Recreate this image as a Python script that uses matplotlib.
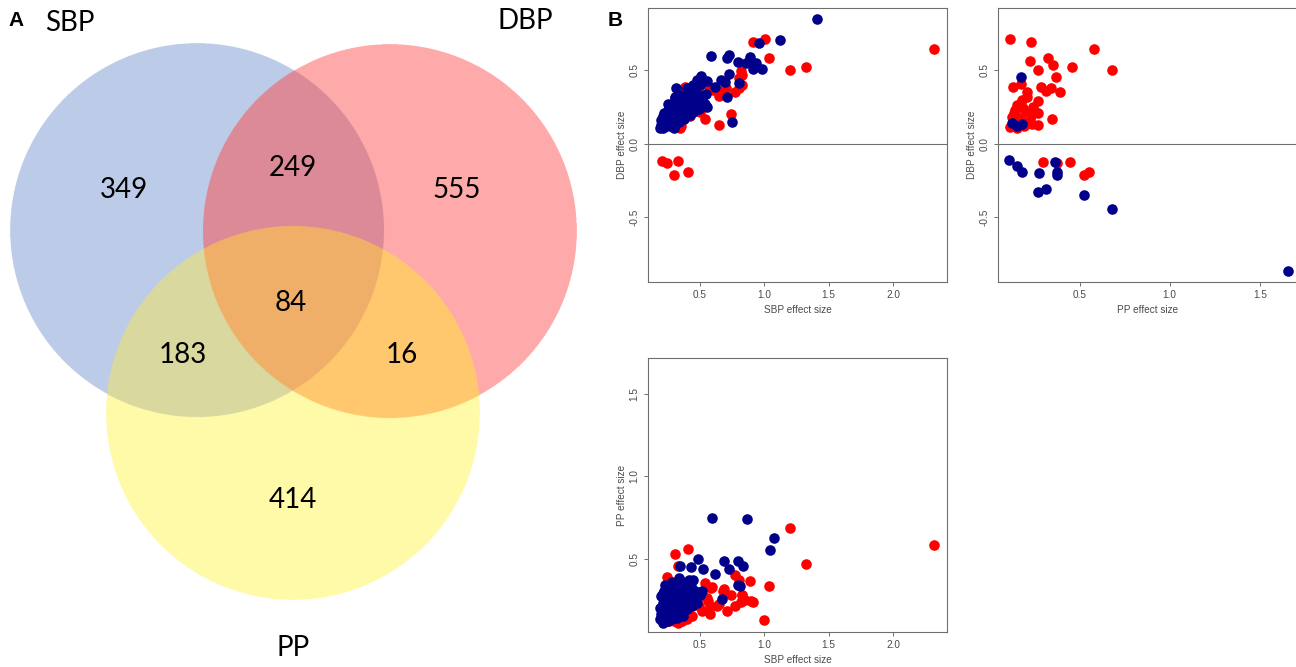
"""Venn diagram of SBP/DBP/PP loci plus pairwise effect-size scatter plots."""

import matplotlib
matplotlib.use("Agg")
import matplotlib.pyplot as plt
import numpy as np

# ---- Venn counts ----
venn_sets = ["SBP", "DBP", "PP"]
venn_counts = {"A": 349, "B": 555, "C": 414, "AB": 249, "AC": 183, "BC": 16, "ABC": 84}

# ---- panel 1: SBP (x) vs DBP (y) ----
p1_red_x = [2.322, 1.004, 0.911, 1.035, 1.200, 1.327, 0.823, 0.802, 0.805, 0.775, 0.681, 0.648,
            0.384, 0.740, 0.541, 0.652, 0.353, 0.208, 0.247, 0.329, 0.301, 0.410,
            0.825, 0.825, 0.655, 0.60, 0.52, 0.46, 0.42, 0.50, 0.28, 0.345, 0.44, 0.32, 0.57, 0.70, 0.90]
p1_red_y = [0.646, 0.712, 0.694, 0.583, 0.501, 0.524, 0.499, 0.447, 0.379, 0.356, 0.367, 0.324,
            0.385, 0.204, 0.170, 0.132, 0.125, -0.118, -0.132, -0.118, -0.211, -0.188,
            0.47, 0.40, 0.35, 0.37, 0.33, 0.24, 0.19, 0.22, 0.12, 0.109, 0.33, 0.23, 0.39, 0.38, 0.56]
p1_blue_x = [1.407, 1.123, 0.960, 0.583, 0.727, 0.714, 0.888, 0.798, 0.862, 0.934, 0.916, 0.981,
             0.730, 0.805, 0.505, 0.480, 0.661, 0.697, 0.558, 0.313, 0.465, 0.617, 0.713, 0.556,
             0.748, 0.304,
             0.19, 0.20, 0.20, 0.21, 0.21, 0.22, 0.22, 0.23, 0.24, 0.24, 0.25, 0.25, 0.26, 0.27,
             0.27, 0.28, 0.28, 0.29, 0.30, 0.30, 0.31, 0.31, 0.32, 0.33, 0.33, 0.34, 0.35, 0.35,
             0.36, 0.37, 0.38, 0.38, 0.39, 0.40, 0.41, 0.42, 0.42, 0.43, 0.44, 0.45, 0.46, 0.47,
             0.48, 0.49, 0.50, 0.52, 0.54, 0.55, 0.50, 0.45, 0.40, 0.31, 0.25, 0.30]
p1_blue_y = [0.850, 0.707, 0.685, 0.596, 0.605, 0.587, 0.590, 0.558, 0.549, 0.549, 0.510, 0.512,
             0.476, 0.413, 0.463, 0.435, 0.435, 0.420, 0.429, 0.379, 0.379, 0.390, 0.317, 0.254,
             0.150, 0.311,
             0.11, 0.13, 0.16, 0.19, 0.11, 0.14, 0.21, 0.17, 0.12, 0.20, 0.15, 0.23, 0.18, 0.12,
             0.21, 0.25, 0.15, 0.19, 0.23, 0.28, 0.13, 0.17, 0.21, 0.26, 0.30, 0.15, 0.19, 0.24,
             0.28, 0.33, 0.17, 0.22, 0.26, 0.30, 0.35, 0.20, 0.24, 0.28, 0.32, 0.22, 0.26, 0.30,
             0.34, 0.24, 0.28, 0.31, 0.27, 0.34, 0.40, 0.40, 0.38, 0.32, 0.27, 0.11]

# ---- panel 2: PP (x) vs DBP (y) ----
p2_red_x = [0.115, 0.232, 0.582, 0.327, 0.223, 0.355, 0.459, 0.681, 0.267, 0.370, 0.174, 0.128,
            0.284, 0.342, 0.392, 0.314, 0.210, 0.210, 0.267, 0.154, 0.243, 0.187, 0.136, 0.271,
            0.122, 0.345, 0.169, 0.215, 0.113, 0.150, 0.196, 0.267, 0.234,
            0.299, 0.377, 0.448, 0.526, 0.550,
            0.14, 0.18, 0.20, 0.23, 0.16, 0.25, 0.19, 0.13]
p2_red_y = [0.712, 0.692, 0.646, 0.587, 0.565, 0.540, 0.524, 0.501, 0.501, 0.454, 0.410, 0.385,
            0.385, 0.379, 0.356, 0.363, 0.356, 0.322, 0.295, 0.265, 0.254, 0.243, 0.213, 0.209,
            0.186, 0.170, 0.175, 0.152, 0.118, 0.107, 0.129, 0.129, 0.136,
            -0.120, -0.132, -0.120, -0.211, -0.188,
            0.23, 0.30, 0.22, 0.19, 0.17, 0.22, 0.12, 0.15]
p2_blue_x = [0.172, 0.126, 0.150, 0.180, 0.109, 0.152, 0.178, 0.275, 0.271, 0.314, 0.366, 0.373,
             0.375, 0.526, 0.677, 1.655]
p2_blue_y = [0.454, 0.141, 0.125, 0.134, -0.111, -0.150, -0.188, -0.195, -0.329, -0.304, -0.125,
             -0.188, -0.215, -0.351, -0.440, -0.868]

# ---- panel 3: SBP (x) vs PP (y) ----
p3_red_x = [2.322, 1.200, 1.327, 0.999, 0.410, 0.306, 0.327, 0.244, 1.035, 0.890, 0.774, 0.805,
            0.691, 0.740, 0.826, 0.818, 0.911, 0.598, 0.541, 0.645, 0.578, 0.519, 0.552,
            0.59, 0.68, 0.83, 0.90, 0.71, 0.63, 0.56, 0.49, 0.44, 0.36, 0.40, 0.58, 0.77, 0.85,
            0.48, 0.21, 0.30, 0.33, 0.26]
p3_red_y = [0.585, 0.683, 0.466, 0.125, 0.556, 0.528, 0.452, 0.385, 0.335, 0.361, 0.397, 0.371,
            0.315, 0.276, 0.276, 0.234, 0.238, 0.325, 0.351, 0.226, 0.214, 0.179, 0.258,
            0.32, 0.30, 0.28, 0.24, 0.18, 0.21, 0.24, 0.21, 0.15, 0.12, 0.13, 0.16, 0.21, 0.25,
            0.25, 0.29, 0.12, 0.11, 0.12]
p3_blue_x = [0.596, 0.870, 1.076, 1.045, 0.484, 0.342, 0.428, 0.528, 0.691, 0.730, 0.800, 0.838,
             0.616, 0.337, 0.412, 0.448, 0.810, 0.795, 0.673, 0.262,
             0.19, 0.20, 0.19, 0.21, 0.20, 0.22, 0.23, 0.22, 0.24, 0.25, 0.25, 0.26, 0.27, 0.27,
             0.28, 0.28, 0.29, 0.30, 0.30, 0.31, 0.32, 0.32, 0.33, 0.34, 0.35, 0.35, 0.36, 0.37,
             0.38, 0.39, 0.40, 0.41, 0.42, 0.43, 0.44, 0.45, 0.46, 0.48, 0.50, 0.52, 0.28, 0.21,
             0.24, 0.23, 0.36, 0.40]
p3_blue_y = [0.748, 0.738, 0.627, 0.552, 0.496, 0.456, 0.448, 0.435, 0.482, 0.435, 0.488, 0.456,
             0.407, 0.381, 0.371, 0.367, 0.331, 0.341, 0.254, 0.341,
             0.13, 0.16, 0.20, 0.23, 0.27, 0.14, 0.18, 0.30, 0.21, 0.12, 0.25, 0.16, 0.29, 0.20,
             0.13, 0.24, 0.33, 0.17, 0.27, 0.21, 0.14, 0.30, 0.24, 0.18, 0.28, 0.33, 0.21, 0.15,
             0.25, 0.30, 0.19, 0.23, 0.28, 0.33, 0.21, 0.26, 0.30, 0.23, 0.28, 0.30, 0.36, 0.11,
             0.28, 0.34, 0.36, 0.35]

RED = "#FF0000"
BLUE = "#00008B"
GREY = "#6E6E6E"
TXT = "#4A4A4A"

fig = plt.figure(figsize=(12.96, 6.67), dpi=100)

# ---------------- Venn (pixel coordinates) ----------------
ax_v = fig.add_axes([0, 0, 600 / 1296, 1])
ax_v.set_xlim(0, 600)
ax_v.set_ylim(667, 0)
ax_v.axis("off")

circles = {"A": (197, 230), "B": (390, 231), "C": (293, 413)}
radius = 187
region_colors = {
    "A": "#BDCCE8", "B": "#FFAAAA", "C": "#FFFAA8",
    "AB": "#DC8A98", "AC": "#D8D8A0", "BC": "#FFC86E", "ABC": "#F0B068",
}
ss = 3
yy, xx = np.mgrid[0:667 * ss, 0:600 * ss]
px = (xx + 0.5) / ss
py = (yy + 0.5) / ss
code = np.zeros(px.shape, dtype=int)
for bit, key in zip([1, 2, 4], ["A", "B", "C"]):
    cx, cy = circles[key]
    code += bit * (((px - cx) ** 2 + (py - cy) ** 2) <= radius ** 2)
palette = np.ones((8, 4))
palette[0, 3] = 0
for key, col in region_colors.items():
    idx = sum({"A": 1, "B": 2, "C": 4}[k] for k in key)
    palette[idx] = matplotlib.colors.to_rgba(col)
ax_v.imshow(palette[code], extent=(0, 600, 667, 0), interpolation="antialiased", zorder=1)

venn_font = ["Lato", "DejaVu Sans"]
count_pos = {"A": (124, 190), "AB": (293, 168), "B": (457, 190), "ABC": (291, 303),
             "AC": (183, 355), "BC": (402, 355), "C": (293, 500)}
for key, (x, y) in count_pos.items():
    ax_v.text(x, y, str(venn_counts[key]), ha="center", va="center", fontsize=20,
              family=venn_font, zorder=3)
for name, (x, y) in zip(venn_sets, [(70, 23), (525, 21), (293, 648)]):
    ax_v.text(x, y, name, ha="center", va="center", fontsize=20, family=venn_font, zorder=3)
ax_v.text(16.5, 20.5, "A", ha="center", va="center", fontsize=15, fontweight="bold",
          family="Liberation Sans")
fig.text(615 / 1296, 1 - 20.5 / 667, "B", ha="center", va="center", fontsize=15,
         fontweight="bold", family="Liberation Sans")


# ---------------- scatter panels ----------------
def scatter_panel(rect, rx, ry, bx, by, xlim, ylim, xticks, yticks, xlabel, ylabel, hline):
    ax = fig.add_axes(rect)
    if hline:
        ax.axhline(0, color=GREY, lw=0.8, zorder=1)
    ax.scatter(rx, ry, s=58, c=RED, linewidths=0, zorder=2)
    ax.scatter(bx, by, s=58, c=BLUE, linewidths=0, zorder=3)
    ax.set_xlim(*xlim)
    ax.set_ylim(*ylim)
    ax.set_xticks(xticks)
    ax.set_xticklabels([f"{t:.1f}" for t in xticks], family="Liberation Sans")
    ax.set_yticks(yticks)
    ax.set_yticklabels([f"{t:.1f}" for t in yticks], rotation=90, va="center",
                       family="Liberation Sans")
    ax.tick_params(direction="out", length=2.6, width=0.7, color=GREY, labelcolor=TXT,
                   labelsize=7.2, pad=3.5)
    for sp in ax.spines.values():
        sp.set_color(GREY)
        sp.set_linewidth(0.8)
    ax.set_xlabel(xlabel, fontsize=7.2, color=TXT, labelpad=3, family="Liberation Sans")
    ax.set_ylabel(ylabel, fontsize=7.2, color=TXT, labelpad=2, family="Liberation Sans")
    return ax


W = 299 / 1296
H = 274 / 667
scatter_panel([648 / 1296, 1 - 282 / 667, W, H], p1_red_x, p1_red_y, p1_blue_x, p1_blue_y,
              (0.097, 2.42), (-0.94, 0.925), [0.5, 1.0, 1.5, 2.0], [-0.5, 0.0, 0.5],
              "SBP effect size", "DBP effect size", True)
scatter_panel([998 / 1296, 1 - 282 / 667, 300 / 1296, H], p2_red_x, p2_red_y, p2_blue_x, p2_blue_y,
              (0.047, 1.712), (-0.94, 0.925), [0.5, 1.0, 1.5], [-0.5, 0.0, 0.5],
              "PP effect size", "DBP effect size", True)
scatter_panel([648 / 1296, 1 - 632 / 667, W, H], p3_red_x, p3_red_y, p3_blue_x, p3_blue_y,
              (0.097, 2.42), (0.053, 1.72), [0.5, 1.0, 1.5, 2.0], [0.5, 1.0, 1.5],
              "SBP effect size", "PP effect size", False)

fig.savefig("out.png", dpi=100)
plt.close(fig)
